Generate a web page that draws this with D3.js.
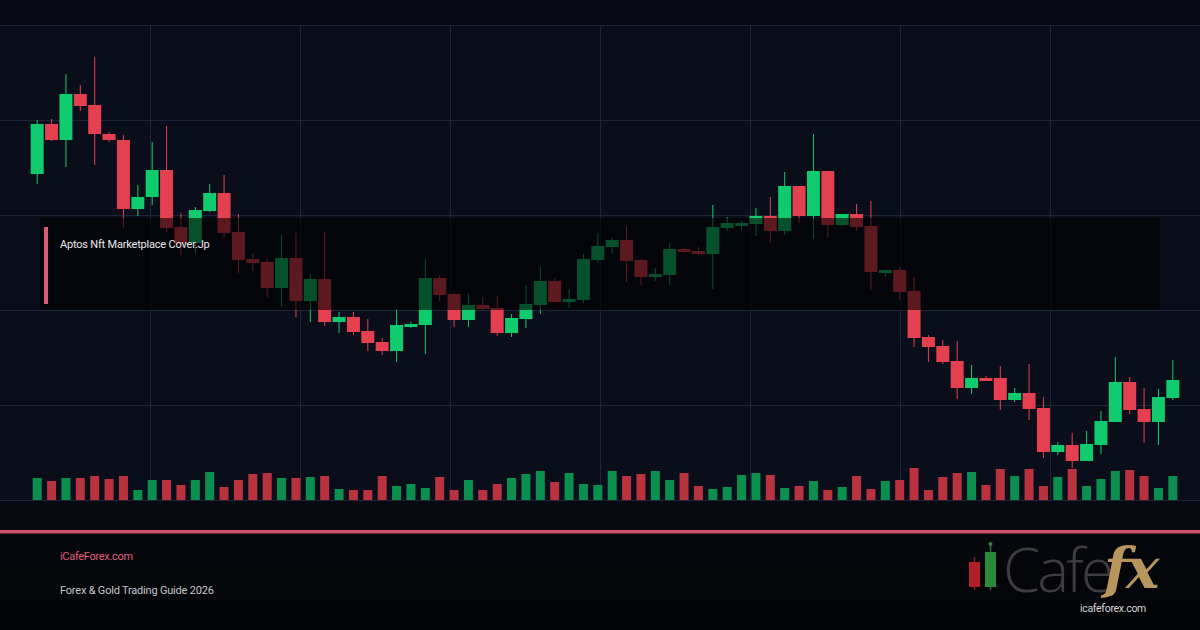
<!DOCTYPE html>
<html lang="en">
<head>
<meta charset="utf-8">
<title>Aptos Nft Marketplace Cover.Jp</title>
<script src="https://d3js.org/d3.v7.min.js"></script>
<style>
  html, body { margin: 0; padding: 0; background: #05070d; }
  svg { display: block; }
</style>
</head>
<body>
<div id="chart"></div>
<script>
// candle data, one entry per session
var opens  = [32.6,37.6,36.0,40.6,39.5,36.6,36.0,29.1,30.3,33.0,27.3,25.7,28.9,30.7,26.8,24.1,23.8,21.2,24.2,19.9,
              22.1,17.8,18.3,16.9,15.8,14.9,17.3,17.5,22.2,20.6,18.0,19.5,19.2,16.7,18.1,19.5,21.9,19.8,20.0,24.0,
              25.3,26.0,24.0,22.3,22.5,25.1,24.9,24.6,27.2,27.4,27.6,28.4,26.9,31.4,28.4,32.9,27.5,28.6,27.4,22.7,
              23.0,20.9,16.3,15.4,13.9,11.2,12.2,12.2,10.0,10.7,9.2,4.8,5.5,3.9,5.5,7.8,11.8,9.1,7.8,10.2];
var closes = [37.6,36.0,40.6,39.4,36.6,36.0,29.1,30.3,33.0,27.2,25.6,29.0,30.7,26.7,24.0,23.7,21.2,24.2,19.9,22.1,
              17.8,18.3,16.8,15.7,14.9,17.5,17.6,22.2,20.5,18.0,19.5,19.1,16.7,18.2,19.6,21.9,19.8,20.1,24.1,25.4,
              26.0,23.9,22.3,22.6,25.1,24.8,24.6,27.3,27.7,27.7,28.4,26.9,31.4,28.4,32.9,27.5,28.6,27.3,22.8,23.0,
              20.8,16.2,15.3,13.8,11.2,12.2,11.9,10.0,10.7,9.1,4.8,5.5,3.9,5.6,7.9,11.8,9.0,7.8,10.3,12.0];
var highs  = [38.0,38.1,42.6,41.5,44.3,36.8,36.5,31.5,35.8,37.4,28.7,29.3,31.6,32.5,28.6,24.7,24.2,26.5,26.7,22.6,
              26.8,18.8,18.8,18.1,16.2,19.1,17.8,24.1,22.5,20.7,20.6,20.3,20.4,18.6,21.5,23.3,22.2,21.1,24.6,26.7,
              26.2,27.4,24.1,23.2,25.7,25.2,25.3,29.5,28.3,27.9,29.2,30.3,32.8,31.4,36.6,32.9,28.6,29.6,29.9,23.0,
              23.3,22.3,16.5,16.0,15.9,13.5,12.4,13.4,11.2,13.6,10.3,5.8,6.7,6.9,8.9,14.3,12.3,11.2,11.1,14.0];
var lows   = [31.6,35.9,33.3,38.9,33.5,35.8,27.2,28.4,29.5,26.8,24.5,24.6,28.8,26.2,22.7,22.9,20.3,19.3,18.3,17.8,
              17.4,16.7,16.5,14.9,14.5,13.8,17.2,14.6,19.9,17.3,17.3,19.0,16.4,16.3,17.2,18.6,19.7,19.2,19.7,23.7,
              24.6,21.8,21.5,21.9,21.5,24.7,24.5,21.1,26.9,27.0,26.4,25.7,26.5,27.7,26.1,26.3,27.4,26.9,21.0,22.3,
              20.0,15.3,13.8,13.6,10.1,10.6,11.9,9.0,9.8,8.0,4.2,4.5,3.2,3.9,4.6,7.8,8.6,5.7,5.5,10.0];
var volumes = [220,190,220,220,240,210,240,100,200,200,150,200,280,130,200,260,270,220,220,230,
               240,110,100,100,240,140,160,120,230,100,200,100,160,220,260,290,180,270,160,150,
               290,240,260,290,200,270,140,110,130,250,270,250,120,140,190,100,130,240,110,190,
               200,320,100,230,270,280,150,310,240,310,140,230,310,140,210,290,300,240,120,240];

var title = "Aptos Nft Marketplace Cover.Jp";
var siteName = "iCafeForex.com";
var subtitle = "Forex & Gold Trading Guide 2026";

var width = 1200, height = 630;
var plotTop = 25, plotBottom = 500;

var up = "#0fcb6e", down = "#e5404f";
var volUp = "#0a8f4f", volDown = "#b9333f";

var data = opens.map(function(o, i) {
  return {i: i, open: o, close: closes[i], high: highs[i], low: lows[i], vol: volumes[i]};
});

var svg = d3.select("#chart").append("svg")
  .attr("width", width).attr("height", height);

var defs = svg.append("defs");
var fg = defs.append("linearGradient").attr("id", "footerGrad")
  .attr("x1", 0).attr("y1", 0).attr("x2", 0).attr("y2", 1);
fg.append("stop").attr("offset", "0%").attr("stop-color", "#070a12");
fg.append("stop").attr("offset", "100%").attr("stop-color", "#020305");

// backgrounds
svg.append("rect").attr("width", width).attr("height", plotTop).attr("fill", "#070a13");
svg.append("rect").attr("y", plotTop).attr("width", width).attr("height", plotBottom - plotTop).attr("fill", "#0a0e1b");
svg.append("rect").attr("y", plotBottom).attr("width", width).attr("height", height - plotBottom).attr("fill", "url(#footerGrad)");

// scales
var x = d3.scaleBand().domain(d3.range(data.length)).range([30, 1180]).padding(0);
var y = d3.scaleLinear().domain([0, 47.5]).range([plotBottom, plotTop]);
var yVol = d3.scaleLinear().domain([0, 400]).range([plotBottom, plotBottom - 40]);
var gridX = d3.scaleLinear().domain([0, 8]).range([0, width]);

var bw = x.bandwidth();

// grid
var grid = svg.append("g").attr("stroke", "#1f2538").attr("stroke-width", 1);
grid.selectAll(".gy").data([0, 9.5, 19, 28.5, 38, 47.5]).enter().append("line")
  .attr("x1", 0).attr("x2", width)
  .attr("y1", function(d) { return Math.round(y(d)) + 0.5; })
  .attr("y2", function(d) { return Math.round(y(d)) + 0.5; });
grid.selectAll(".gx").data(d3.range(1, 8)).enter().append("line")
  .attr("x1", function(d) { return Math.round(gridX(d)) + 0.5; })
  .attr("x2", function(d) { return Math.round(gridX(d)) + 0.5; })
  .attr("y1", plotTop).attr("y2", plotBottom);

// volume bars
svg.append("g").selectAll("rect").data(data).enter().append("rect")
  .attr("x", function(d) { return x(d.i) + bw / 2 - 4.5; })
  .attr("width", 9)
  .attr("y", function(d) { return yVol(d.vol); })
  .attr("height", function(d) { return plotBottom - yVol(d.vol); })
  .attr("fill", function(d) { return d.close >= d.open ? volUp : volDown; });

// candles
var candles = svg.append("g").selectAll("g").data(data).enter().append("g");
candles.append("line")
  .attr("x1", function(d) { return x(d.i) + bw / 2; })
  .attr("x2", function(d) { return x(d.i) + bw / 2; })
  .attr("y1", function(d) { return y(d.high); })
  .attr("y2", function(d) { return y(d.low); })
  .attr("stroke", function(d) { return d.close >= d.open ? up : down; })
  .attr("stroke-width", 1);
candles.append("rect")
  .attr("x", function(d) { return x(d.i) + bw / 2 - 6.5; })
  .attr("width", 13)
  .attr("y", function(d) { return y(Math.max(d.open, d.close)); })
  .attr("height", function(d) { return Math.max(1.5, Math.abs(y(d.open) - y(d.close))); })
  .attr("fill", function(d) { return d.close >= d.open ? up : down; });

// title overlay
svg.append("rect").attr("x", 40).attr("y", 218).attr("width", 1120).attr("height", 92)
  .attr("fill", "#000").attr("opacity", 0.6);
svg.append("rect").attr("x", 44).attr("y", 227).attr("width", 4).attr("height", 77)
  .attr("fill", "#d95a72");
svg.append("text").attr("x", 60).attr("y", 248)
  .attr("font-family", "Roboto, 'Liberation Sans', sans-serif").attr("font-size", 11)
  .attr("fill", "#e8e8ea").attr("letter-spacing", -0.2).text(title);

// footer
svg.append("rect").attr("x", 0).attr("y", 530).attr("width", width).attr("height", 3.5).attr("fill", "#cf5269");
svg.append("text").attr("x", 60).attr("y", 560)
  .attr("font-family", "Roboto, 'Liberation Sans', sans-serif").attr("font-size", 11)
  .attr("fill", "#e0607a").attr("letter-spacing", -0.3).text(siteName);
svg.append("text").attr("x", 60).attr("y", 594)
  .attr("font-family", "Roboto, 'Liberation Sans', sans-serif").attr("font-size", 11)
  .attr("fill", "#c8c8cc").attr("letter-spacing", -0.2).text(subtitle);

// logo
var logo = svg.append("g");
logo.append("line").attr("x1", 974.5).attr("x2", 974.5).attr("y1", 557).attr("y2", 590).attr("stroke", "#8a1a22").attr("stroke-width", 1.5);
logo.append("rect").attr("x", 969).attr("y", 562).attr("width", 11).attr("height", 25).attr("fill", "#b01e28");
logo.append("line").attr("x1", 990.5).attr("x2", 990.5).attr("y1", 543).attr("y2", 590).attr("stroke", "#2d6a38").attr("stroke-width", 1.5);
logo.append("circle").attr("cx", 990.5).attr("cy", 544).attr("r", 2).attr("fill", "#3a7a44");
logo.append("rect").attr("x", 985).attr("y", 552).attr("width", 11).attr("height", 35).attr("fill", "#2a8a3c");
logo.append("text").attr("x", 1003).attr("y", 592)
  .attr("font-family", "'Open Sans', 'DejaVu Sans', sans-serif").attr("font-weight", 300)
  .attr("font-size", 60).attr("fill", "#3d3d40").attr("letter-spacing", -3).text("Cafe");
logo.append("text").attr("x", 1104).attr("y", 588)
  .attr("font-family", "'DejaVu Serif', 'Liberation Serif', serif").attr("font-style", "italic").attr("font-weight", "bold")
  .attr("font-size", 56).attr("fill", "#b8955c").attr("letter-spacing", -2).text("fx");
logo.append("text").attr("x", 1080).attr("y", 612)
  .attr("font-family", "Roboto, 'Liberation Sans', sans-serif").attr("font-size", 10.5)
  .attr("fill", "#d6d6d8").attr("letter-spacing", -0.3).text("icafeforex.com");
</script>
</body>
</html>
